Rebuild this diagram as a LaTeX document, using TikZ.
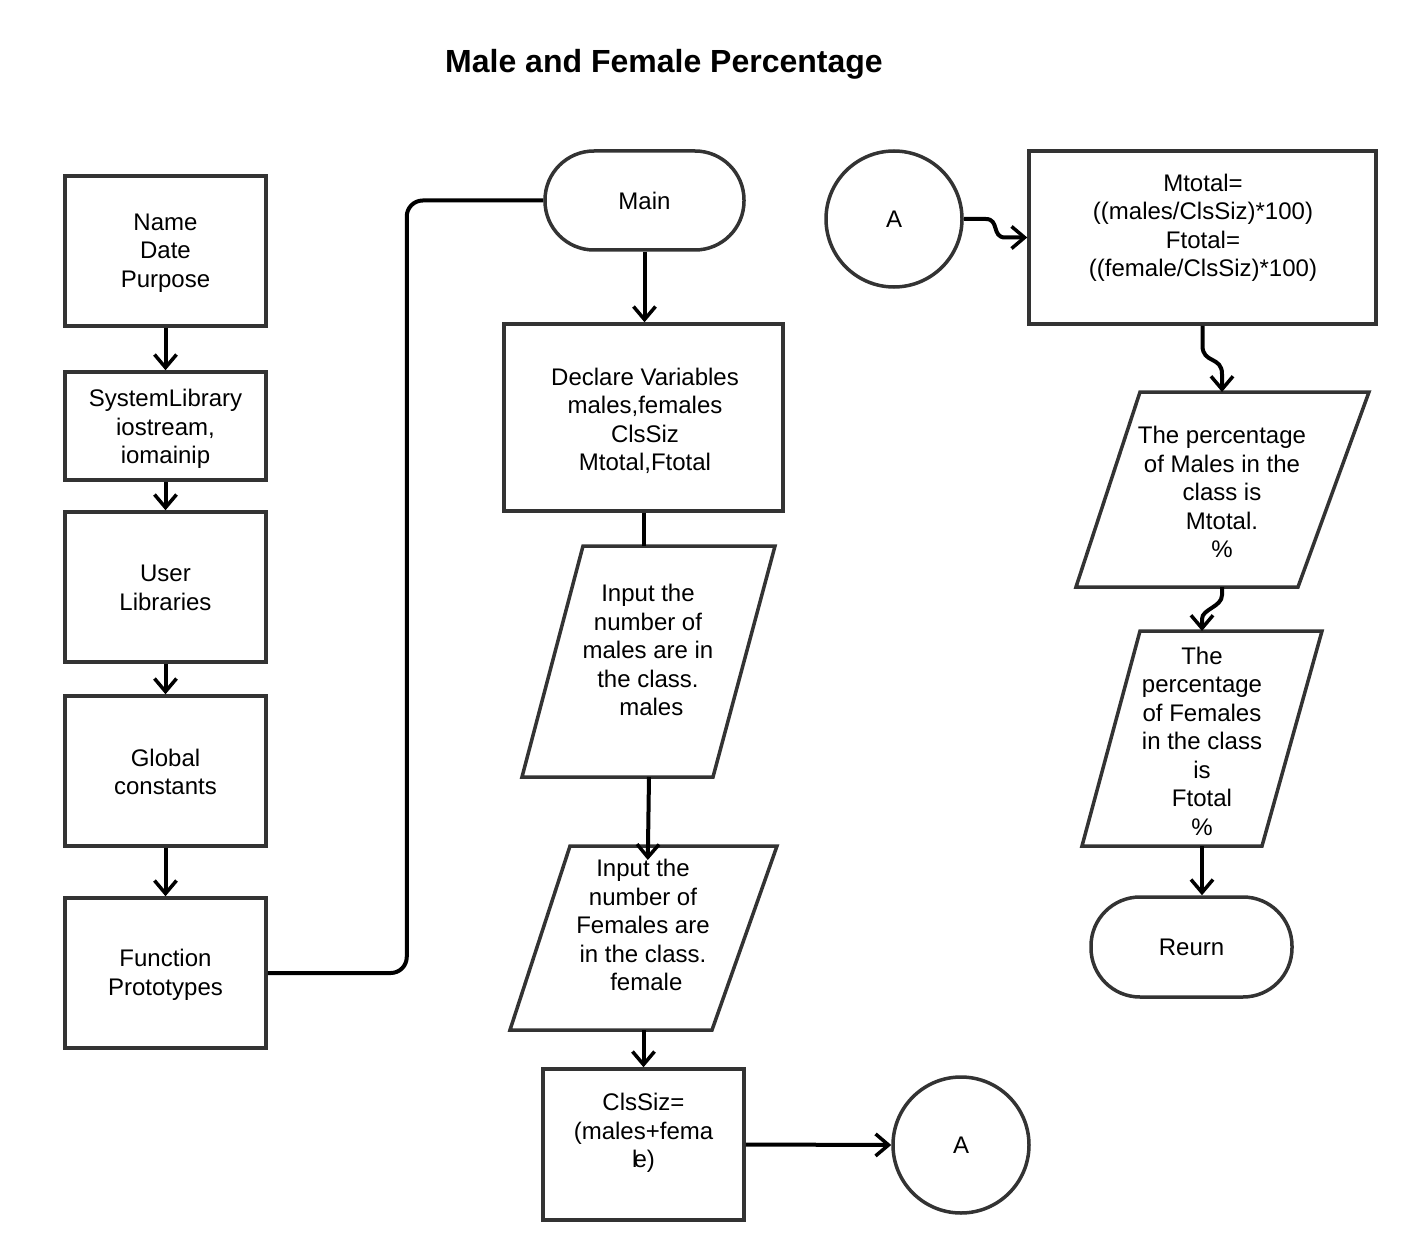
\documentclass[tikz,border=0pt]{standalone}
\usepackage{fontspec}
\setmainfont{Liberation Sans}
\usetikzlibrary{arrows.meta,calc}
\definecolor{bcol}{HTML}{333333}
\begin{document}
\begin{tikzpicture}[x=1pt,y=-1pt,
  box/.style={draw=bcol,line width=3.5pt,fill=white,inner sep=0pt},
  shp/.style={draw=bcol,line width=3.5pt,line join=miter},
  txt/.style={align=center,font=\fontsize{24}{28.5}\selectfont,text=black,inner sep=0pt},
  conn/.style={line width=4pt,black},
  arr/.style={conn,-{Straight Barb[length=13pt,width=22pt,line width=3.5pt]}},
  ttl/.style={font=\bfseries\fontsize{32}{38}\selectfont,text=black,inner sep=0pt}]
\useasboundingbox (0,0) rectangle (1425,1260);
\fill[white] (0,0) rectangle (1425,1260);

\node[ttl] (title) at (664,64) {Male and Female Percentage};

% left column
\node[box,minimum width=201pt,minimum height=150pt] (b1) at (165.5,251) {};
\node[txt] (t1) at (165.5,253) {Name\\Date\\Purpose};
\node[box,minimum width=201pt,minimum height=108pt] (b2) at (165.5,426) {};
\node[txt] (t2) at (165.5,429) {SystemLibrary\\iostream,\\iomainip};
\node[box,minimum width=201pt,minimum height=150pt] (b3) at (165.5,587) {};
\node[txt] (t3) at (165.5,588) {User\\Libraries};
\node[box,minimum width=201pt,minimum height=150pt] (b4) at (165.5,771) {};
\node[txt] (t4) at (165.5,772) {Global\\constants};
\node[box,minimum width=201pt,minimum height=150pt] (b5) at (165.5,973) {};
\node[txt] (t5) at (165.5,975) {Function\\Prototypes};

\draw[arr] (b1.south) -- (b2.north);
\draw[arr] (b2.south) -- (b3.north);
\draw[arr] (b3.south) -- (b4.north);
\draw[arr] (b4.south) -- (b5.north);

% middle column
\node[box,rounded corners=49pt,minimum width=199pt,minimum height=99pt] (main) at (644.5,200.5) {};
\node[txt] (tmain) at (644.5,201) {Main};
\draw[conn,rounded corners=16pt] (b5.east) -- ++(139,0) |- (main.west);

\node[box,minimum width=279pt,minimum height=187pt] (decl) at (643.5,417.5) {};
\node[txt] (tdecl) at (645,421) {Declare Variables\\males,females\\ClsSiz\\Mtotal,Ftotal};
\draw[arr] (main.south) -- (main.south |- decl.north);

\draw[shp] (522,777) -- (583,546) -- (775,546) -- (713,777) -- cycle;
\coordinate (in1top) at (643.5,546);
\coordinate (in1bot) at (649,777);
\node[txt] (in1) at (648,650) {Input the\\number of\\males are in\\the class.\\\ males};
\draw[conn] (decl.south) -- (in1top);

\draw[shp] (510,1030) -- (570,846) -- (777,846) -- (712,1030) -- cycle;
\coordinate (in2top) at (648,846);
\coordinate (in2bot) at (643.5,1030);
\node[txt] (in2) at (643,925) {Input the\\number of\\Females are\\in the class.\\\ female};
\draw[arr,shorten >=-14pt] (in1bot) -- (in2top);

\node[box,minimum width=201pt,minimum height=151pt] (cls) at (643.5,1144.5) {};
\node[txt] (tcls) at (643.5,1133) {ClsSiz=\\(males+fema\\l\kern-4pt e)};
\draw[arr] (in2bot) -- (in2bot |- cls.north);

\node[circle,draw=bcol,line width=3.5pt,minimum size=136pt,inner sep=0pt] (a2) at (961,1145) {};
\node[txt] (ta2) at (961,1145) {A};
\draw[arr] (cls.east) -- (a2.west);

% right column
\node[circle,draw=bcol,line width=3.5pt,minimum size=136pt,inner sep=0pt] (a1) at (894,219) {};
\node[txt] (ta1) at (894,219) {A};

\node[box,minimum width=347pt,minimum height=173pt] (calc) at (1202.5,237.5) {};
\node[txt] (tcalc) at (1203,228) {Mtotal=\\((males/ClsSiz)*100)\\Ftotal=\\((female/ClsSiz)*100)};
\draw[arr] (a1.east) -- ++(22,0) .. controls +(14,0) and +(-14,0) .. ($(calc.west)+(-22,0)$) -- (calc.west);

\draw[shp] (1076,587) -- (1140,392) -- (1369,392) -- (1298,587) -- cycle;
\coordinate (o1top) at (1222,392);
\coordinate (o1bot) at (1222,587);
\node[txt] (out1) at (1222,492) {The percentage\\of Males in the\\class is\\Mtotal.\\\%};
\draw[arr] (calc.south) -- ++(0,20) .. controls +(0,18) and +(0,-18) .. ($(o1top)+(0,-18)$) -- (o1top);

\draw[shp] (1082,846) -- (1140,631) -- (1322,631) -- (1262,846) -- cycle;
\coordinate (o2top) at (1202,631);
\coordinate (o2bot) at (1202,846);
\node[txt] (out2) at (1202,741) {The\\percentage\\of Females\\in the class\\is\\Ftotal\\\%};
\draw[arr] (o1bot) -- ++(0,8) .. controls +(0,12) and +(0,-10) .. ($(o2top)+(0,-12)$) -- (o2top);

\node[box,rounded corners=49pt,minimum width=201pt,minimum height=100pt] (ret) at (1191.5,947) {};
\node[txt] (tret) at (1191.5,947) {Reurn};
\draw[arr] (o2bot) -- (o2bot |- ret.north);
\end{tikzpicture}
\end{document}
